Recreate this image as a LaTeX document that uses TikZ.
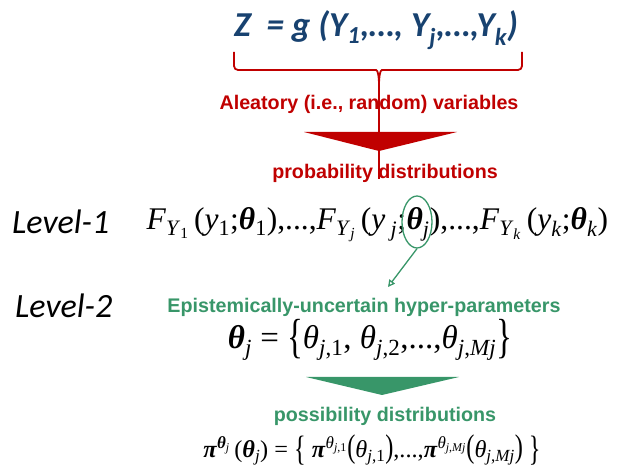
\documentclass[tikz,border=0pt]{standalone}
\usepackage{amsmath}
\usepackage{graphicx}
\usepackage{fontspec}
\setmainfont{Liberation Sans}
\newfontfamily\calfont{Carlito}
\newfontfamily\mfont{Liberation Serif}
\usepackage{xcolor}
\usepackage{tikz}
\usetikzlibrary{positioning,arrows.meta,calc,shapes.geometric}
\definecolor{alea}{RGB}{192,0,0}
\definecolor{epis}{RGB}{56,150,105}
\definecolor{funcblue}{RGB}{24,66,112}
\newcommand{\vi}[1]{\textit{#1}}
\newcommand{\sbx}[1]{\textsubscript{#1}}
\newcommand{\spx}[1]{\textsuperscript{#1}}
\newcommand{\bt}{\textbf{\textit{θ}}}
\newcommand{\bp}{\textbf{\textit{π}}}
\newcommand{\tallp}[1]{\scalebox{1}[1.35]{(}#1\scalebox{1}[1.35]{)}}
\newcommand{\tallbr}[1]{\raisebox{-0.12em}{\scalebox{1}[1.45]{#1}}}

\begin{document}
\begin{tikzpicture}[
  x=1pt, y=-1pt,
  lbl/.style={inner sep=0pt,font=\fontsize{19.7}{22}\selectfont\bfseries},
  redlbl/.style={lbl,text=alea},
  greenlbl/.style={lbl,text=epis},
  lvl/.style={inner sep=0pt,font=\fontsize{34}{38}\selectfont\calfont\itshape},
  eqa/.style={inner sep=0pt,font=\fontsize{31.5}{35}\selectfont\mfont},
  eqb/.style={inner sep=0pt,font=\fontsize{33}{37}\selectfont\mfont},
  eqc/.style={inner sep=0pt,font=\fontsize{24.3}{28}\selectfont\mfont},
]
  \useasboundingbox (0,0) rectangle (622,473);

  \node[inner sep=0pt,text=funcblue,font=\fontsize{35}{38}\selectfont\calfont\bfseries\itshape] (zeq) at (376,30)
    {Z\ \ = g (Y\textsubscript{1},…, Y\textsubscript{j},…,Y\textsubscript{k})};

  % brace under the function
  \coordinate (btip) at (379,84);
  \draw[alea,line width=1.8pt,rounded corners=4pt] (234,52) -- (234,70) -- (372,70) to[out=0,in=90] (btip);
  \draw[alea,line width=1.8pt,rounded corners=4pt] (522,52) -- (522,70) -- (386,70) to[out=180,in=90] (btip);

  \node[redlbl] (alea) at (369,104) {Aleatory (i.e., random) variables};
  \node[redlbl,anchor=base] (prob) at (385,179) {probability distributions};
  \draw[alea,line width=1.2pt] (btip) -- (btip |- prob.base);
  \fill[alea] (304,132) -- (457,132) -- (379,151) -- cycle;

  % level 1
  \node[lvl,anchor=base west] (lv1) at (12,234) {Level-1};
  \node[eqa,anchor=base] (thj) at (418,230) {\bt\sbx{\vi{j}}};
  \node[eqa,anchor=base east] (fleft) at (thj.base west)
    {\vi{F}\sbx{\vi{Y}\sbx{1}}\,(\vi{y}\sbx{1};\bt\sbx{1}),...,\vi{F}\sbx{\vi{Y}\sbx{\vi{j}}}\,(\vi{y}\,\sbx{\vi{j}};};
  \node[eqa,anchor=base west] (fright) at (thj.base east)
    {),...,\vi{F}\sbx{\vi{Y}\sbx{\vi{k}}}\,(\vi{y}\sbx{\vi{k}};\bt\sbx{\vi{k}})};
  \node[ellipse,draw=epis,line width=1.3pt,minimum width=30pt,minimum height=52pt] (ring) at (417,222) {};

  % level 2
  \node[lvl,anchor=base west] (lv2) at (15,318) {Level-2};
  \node[greenlbl] (epi) at (364,307) {Epistemically-uncertain hyper-parameters};
  \coordinate (etip) at (388,287);
  \draw[epis,line width=1.3pt,-{Triangle[open,length=7pt,width=7pt]}] (ring.south) -- (etip);
  \node[eqb] (thset) at (370,340)
    {\bt\sbx{\vi{j}} = \tallbr{\{}\vi{θ}\sbx{\vi{j},1}, \vi{θ}\sbx{\vi{j},2},...,\vi{θ}\sbx{\vi{j},\vi{Mj}}\tallbr{\}}};
  \fill[epis] (306,377) -- (459,377) -- (382,395) -- cycle;
  \node[greenlbl] (poss) at (385,416) {possibility distributions};
  \node[eqc] (piset) at (372,450)
    {\bp\spx{\bt\sbx{\vi{j}}}\,(\bt\sbx{\vi{j}}) = \tallbr{\{}\ \bp\spx{\vi{θ}\sbx{\vi{j},1}}\tallp{\vi{θ}\sbx{\vi{j},1}},...,\bp\spx{\vi{θ}\sbx{\vi{j},\vi{Mj}}}\tallp{\vi{θ}\sbx{\vi{j},\vi{Mj}}}\ \tallbr{\}}};
\end{tikzpicture}
\end{document}
